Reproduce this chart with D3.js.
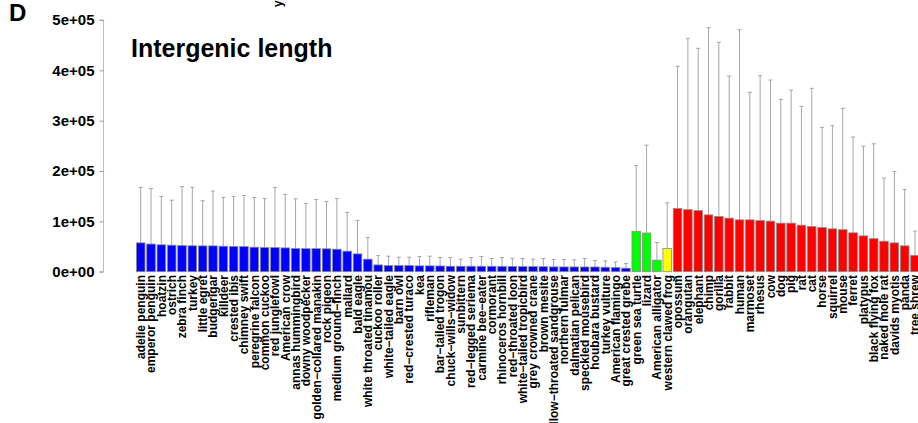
<!DOCTYPE html>
<html>
<head>
<meta charset="utf-8">
<script src="https://cdn.jsdelivr.net/npm/d3@7"></script>
<style>
  html, body { margin: 0; padding: 0; background: #fff; }
  svg { display: block; font-family: "Liberation Sans", Arial, Helvetica, sans-serif; }
</style>
</head>
<body>
<svg id="chart" width="918" height="423"></svg>
<script>
// Species, in plotted order
const species = [
  "adelie penguin", "emperor penguin", "hoatzin", "ostrich", "zebra finch", "turkey",
  "little egret", "budgerigar", "killdeer", "crested ibis", "chimney swift", "peregrine falcon",
  "common cuckoo", "red junglefowl", "American crow", "annas hummingbird", "downy woodpecker",
  "golden−collared manakin", "rock pigeon", "medium ground−finch", "mallard", "bald eagle",
  "white throated tinamou", "cuckoo roller", "white−tailed eagle", "barn owl", "red−crested turaco",
  "kea", "rifleman", "bar−tailed trogon", "chuck−wills−widow", "sunbittern", "red−legged seriema",
  "carmine bee−eater", "cormorant", "rhinoceros hornbill", "red−throated loon",
  "white−tailed tropicbird", "grey crowned crane", "brown mesite", "yellow−throated sandgrouse",
  "northern fulmar", "dalmatian pelican", "speckled mousebird", "houbara bustard", "turkey vulture",
  "American flamingo", "great crested grebe",
  "green sea turtle", "lizard", "American alligator",
  "western clawed frog",
  "opossum", "orangutan", "elephant", "chimp", "gorilla", "rabbit", "human", "marmoset", "rhesus",
  "cow", "dog", "pig", "rat", "cat", "horse", "squirrel", "mouse", "ferret", "platypus",
  "black flying fox", "naked mole rat", "davids myotis", "panda", "tree shrew"
];

// Taxonomic class of each species (drives bar colour)
const group = [
  ...Array(48).fill("bird"),
  "reptile", "reptile", "reptile",
  "amphibian",
  ...Array(24).fill("mammal")
];

// Mean intergenic length (bp)
const meanLength = [
  57300, 55000, 53500, 52700, 52100, 51500, 51300, 51300, 50700, 50100, 50000, 48700,
  48100, 48000, 47300, 46300, 45800, 45800, 45500, 44700, 40800, 35400, 24900, 13500,
  12300, 12300, 12300, 11600, 11600, 11400, 10900, 10900, 10900, 10800, 10800, 10700,
  10600, 10300, 10200, 10000, 9600, 9500, 9500, 9400, 9400, 8900, 8300, 7000,
  80200, 76800, 22900,
  46100,
  125600, 123200, 121300, 112900, 109700, 106400, 103000, 103000, 101800, 100400, 96400, 96400,
  92400, 89900, 87900, 85100, 83500, 77200, 71200, 65600, 60600, 57300, 51300, 32500
];

// Upper end of the error bar (bp)
const upperLength = [
  167400, 165400, 149500, 142000, 169000, 167400, 141000, 160000, 147500, 149500, 151500, 147500,
  145500, 167400, 153500, 144700, 135600, 143500, 139500, 145500, 117700, 101800, 68000, 32000,
  30800, 28800, 28800, 30200, 30800, 28200, 28200, 24900, 28200, 30200, 26200, 28200,
  26800, 26200, 24900, 26200, 24200, 24200, 23500, 26200, 22200, 21500, 19500, 16300,
  211000, 251500, 58000,
  136800,
  408000, 463600, 443700, 484700, 455700, 388700, 480700, 356300, 389300, 380700, 342300, 360800,
  328400, 364200, 286700, 289900, 324500, 267400, 249500, 254100, 185900, 199200, 163400, 80500
];

// Y-axis ticks
const yTicks = [0, 100000, 200000, 300000, 400000, 500000];

const groupColor = {
  bird: "#0000ff",
  reptile: "#00ff00",
  amphibian: "#ffff00",
  mammal: "#ff0000"
};

const svg = d3.select("#chart");

// Bars step ~10.3 px; the series continues past the right edge of the panel
const step = 10.324;
const inner = 0.2 / 1.2;
const x0 = 136.4;
const x = d3.scaleBand()
  .domain(species)
  .range([x0, x0 + step * (species.length - inner)])
  .paddingInner(inner)
  .paddingOuter(0);

const y = d3.scaleLinear().domain([0, 500000]).range([271.7, 20]);

const fmtR = v => {
  const [m, e] = v.toExponential(0).split("e");
  const sign = e[0];
  const digits = e.slice(1).padStart(2, "0");
  return m + "e" + sign + digits;
};

// Y axis
const yAxis = svg.append("g")
  .attr("transform", "translate(103.5,0)")
  .call(d3.axisLeft(y).tickValues(yTicks).tickFormat(fmtR).tickSize(4).tickPadding(5));
yAxis.select(".domain").attr("stroke", "#bdbdbd").attr("d", `M-4,${y(0)}H0V${y(500000)}H-4`);
yAxis.selectAll(".tick line").attr("stroke", "#9a9a9a");
yAxis.selectAll(".tick text")
  .attr("fill", "#000")
  .attr("font-size", 15)
  .attr("font-weight", "bold")
  .attr("font-family", "Liberation Sans, Arial, sans-serif");

// Error bars
const eb = svg.append("g").attr("class", "errorbars");
species.forEach((s, i) => {
  const cx = x(s) + x.bandwidth() / 2;
  eb.append("line")
    .attr("x1", cx).attr("x2", cx)
    .attr("y1", y(meanLength[i])).attr("y2", y(upperLength[i]))
    .attr("stroke", "#a6a6a6").attr("stroke-width", 1);
  eb.append("line")
    .attr("x1", cx - 2).attr("x2", cx + 2)
    .attr("y1", y(upperLength[i])).attr("y2", y(upperLength[i]))
    .attr("stroke", "#a6a6a6").attr("stroke-width", 1);
});

// Bars
svg.append("g").attr("class", "bars")
  .selectAll("rect")
  .data(species)
  .join("rect")
  .attr("x", d => x(d))
  .attr("width", x.bandwidth())
  .attr("y", (d, i) => y(meanLength[i]))
  .attr("height", (d, i) => y(0) - y(meanLength[i]))
  .attr("fill", (d, i) => groupColor[group[i]])
  .attr("stroke", "#8c8c8c")
  .attr("stroke-width", 0.8);

// Species labels, rotated
svg.append("g").attr("class", "labels")
  .selectAll("text")
  .data(species)
  .join("text")
  .attr("transform", d => `translate(${x(d) + x.bandwidth() / 2},275) rotate(-90)`)
  .attr("text-anchor", "end")
  .attr("dy", "0.36em")
  .attr("font-size", 12)
  .attr("font-weight", "bold")
  .text(d => d);

// Title
svg.append("text")
  .attr("x", 131).attr("y", 57)
  .attr("font-size", 25)
  .attr("font-weight", "bold")
  .text("Intergenic length");

// Panel letter
svg.append("text")
  .attr("x", 9).attr("y", 21)
  .attr("font-size", 24)
  .attr("font-weight", "bold")
  .text("D");

// Tail of a label from the panel above
svg.append("text")
  .attr("transform", "translate(278,7) rotate(-90)")
  .attr("text-anchor", "start")
  .attr("dy", "0.36em")
  .attr("font-size", 12)
  .attr("font-weight", "bold")
  .text("y");
</script>
</body>
</html>
